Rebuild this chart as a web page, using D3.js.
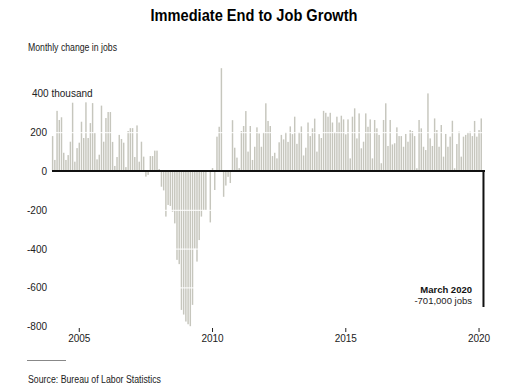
<!DOCTYPE html>
<html>
<head>
<meta charset="utf-8">
<script src="https://cdn.jsdelivr.net/npm/d3@7"></script>
<style>
  body { margin: 0; background: #fff; }
  svg { display: block; font-family: "Liberation Sans", Arial, sans-serif; }
</style>
</head>
<body>
<div id="chart"></div>
<script>
// monthly change in nonfarm payrolls, thousands
const jobs2004 = [180, 57, 310, 263, 277, 94, 57, 82, 151, 352, 48, 118];
const jobs2005 = [146, 254, 170, 354, 170, 247, 350, 196, 60, 84, 337, 151];
const jobs2006 = [273, 304, 304, 150, 26, 72, 186, 165, 146, 20, 206, 221];
const jobs2007 = [221, 72, 235, 48, 151, 74, -29, -20, 77, 77, 105, 105];
const jobs2008 = [10, -81, -100, -235, -175, -180, -210, -270, -458, -480, -716, -740];
const jobs2009 = [-776, -790, -800, -690, -400, -467, -356, -235, -201, -201, -5, -265];
const jobs2010 = [15, -98, 177, 228, 530, -133, -75, -30, -62, 262, 120, 69];
const jobs2011 = [15, 206, 232, 309, 100, 232, 57, 125, 225, 194, 125, 198];
const jobs2012 = [349, 258, 232, 77, 94, 65, 148, 186, 163, 200, 150, 230];
const jobs2013 = [190, 280, 140, 200, 230, 80, 120, 250, 180, 220, 270, 100];
const jobs2014 = [190, 170, 310, 300, 280, 300, 250, 200, 280, 250, 285, 266];
const jobs2015 = [189, 266, 65, 280, 323, 168, 297, 117, 151, 297, 228, 266];
const jobs2016 = [65, 263, 220, 186, 40, 263, 349, 129, 263, 137, 143, 225];
const jobs2017 = [180, 180, 125, 191, 151, 211, 206, 180, 14, 263, 220, 125];
const jobs2018 = [108, 400, 168, 129, 271, 211, 125, 237, 74, 191, 125, 177];
const jobs2019 = [259, 14, 139, 203, 74, 177, 186, 198, 203, 180, 258, 177];
const jobs2020 = [211, 271, -701];

const values = [].concat(jobs2004, jobs2005, jobs2006, jobs2007, jobs2008, jobs2009,
  jobs2010, jobs2011, jobs2012, jobs2013, jobs2014, jobs2015, jobs2016, jobs2017,
  jobs2018, jobs2019, jobs2020);
const months = d3.timeMonth.range(new Date(2004, 0, 1), new Date(2020, 3, 1));
const data = months.map((m, i) => ({ month: m, value: values[i] }));

const yTicks = [400, 200, 0, -200, -400, -600, -800];
const gridValues = [200, -200, -400, -600];
const yearTicks = [2005, 2010, 2015, 2020];

const width = 518;
const height = 389;

const svg = d3.select('#chart')
  .append('svg')
  .attr('width', width)
  .attr('height', height)
  .attr('viewBox', [0, 0, width, height]);

const x = d3.scaleBand()
  .domain(data.map(d => +d.month))
  .range([51.9, 484.2])
  .paddingInner(0.35)
  .paddingOuter(0);

const y = d3.scaleLinear()
  .domain([-800, 400])
  .range([326.2, 93.4]);

// title + subtitle
svg.append('text')
  .attr('x', 254)
  .attr('y', 21)
  .attr('text-anchor', 'middle')
  .style('font-size', '16px')
  .style('font-weight', 'bold')
  .attr('textLength', 207)
  .attr('lengthAdjust', 'spacingAndGlyphs')
  .text('Immediate End to Job Growth');

svg.append('text')
  .attr('x', 28)
  .attr('y', 51)
  .style('font-size', '10px')
  .attr('fill', '#222')
  .attr('textLength', 89)
  .attr('lengthAdjust', 'spacingAndGlyphs')
  .text('Monthly change in jobs');

// bars
const last = data[data.length - 1];
svg.append('g')
  .selectAll('rect')
  .data(data.slice(0, -1))
  .join('rect')
  .attr('x', d => x(+d.month))
  .attr('width', x.bandwidth())
  .attr('y', d => y(Math.max(0, d.value)))
  .attr('height', d => Math.abs(y(d.value) - y(0)))
  .attr('fill', '#c6c6bd');

// white grid lines over the bars
svg.append('g')
  .selectAll('line')
  .data(gridValues)
  .join('line')
  .attr('x1', 52)
  .attr('x2', 484)
  .attr('y1', d => y(d) + 0.5)
  .attr('y2', d => y(d) + 0.5)
  .attr('stroke', '#fff')
  .attr('stroke-width', 1);

// zero line
svg.append('line')
  .attr('x1', 52)
  .attr('x2', 485)
  .attr('y1', y(0))
  .attr('y2', y(0))
  .attr('stroke', '#111')
  .attr('stroke-width', 2);

// march 2020 bar
svg.append('rect')
  .attr('x', x(+last.month) + x.bandwidth() / 2 - 1)
  .attr('width', 2)
  .attr('y', y(0))
  .attr('height', y(last.value) - y(0))
  .attr('fill', '#111');

// y axis labels
const yAxisG = svg.append('g')
  .attr('transform', 'translate(47,0)')
  .call(d3.axisLeft(y).tickValues(yTicks).tickSize(0).tickPadding(0))
  .call(g => g.select('.domain').remove());
yAxisG.selectAll('text')
  .style('font-size', '10px')
  .style('font-family', '"Liberation Sans", Arial, sans-serif')
  .attr('fill', '#222')
  .attr('dy', '0.35em')
  .text(d => d < 0 ? '-' + Math.abs(d) : d);
yAxisG.selectAll('.tick')
  .filter(d => d === 400)
  .select('text')
  .attr('text-anchor', 'start')
  .attr('x', -15)
  .text('400 thousand');

// x axis
const xAxisG = svg.append('g')
  .attr('transform', 'translate(0,328)')
  .call(d3.axisBottom(x)
    .tickValues(yearTicks.map(yr => +new Date(yr, 0, 1)))
    .tickFormat(d => new Date(d).getFullYear())
    .tickSize(4)
    .tickPadding(3))
  .call(g => g.select('.domain').remove());
xAxisG.selectAll('line').attr('stroke', '#222');
xAxisG.selectAll('text')
  .style('font-size', '10px')
  .style('font-family', '"Liberation Sans", Arial, sans-serif')
  .attr('fill', '#222');

// annotation
svg.append('text')
  .attr('x', 472)
  .attr('y', 293)
  .attr('text-anchor', 'end')
  .style('font-size', '9.5px')
  .style('font-weight', 'bold')
  .attr('fill', '#111')
  .text('March 2020');
svg.append('text')
  .attr('x', 472)
  .attr('y', 304)
  .attr('text-anchor', 'end')
  .style('font-size', '9.5px')
  .attr('fill', '#222')
  .text('-701,000 jobs');

// source
svg.append('line')
  .attr('x1', 27)
  .attr('x2', 66)
  .attr('y1', 360.5)
  .attr('y2', 360.5)
  .attr('stroke', '#888')
  .attr('stroke-width', 1);
svg.append('text')
  .attr('x', 28)
  .attr('y', 383)
  .style('font-size', '10px')
  .attr('fill', '#222')
  .attr('textLength', 133)
  .attr('lengthAdjust', 'spacingAndGlyphs')
  .text('Source: Bureau of Labor Statistics');
</script>
</body>
</html>
